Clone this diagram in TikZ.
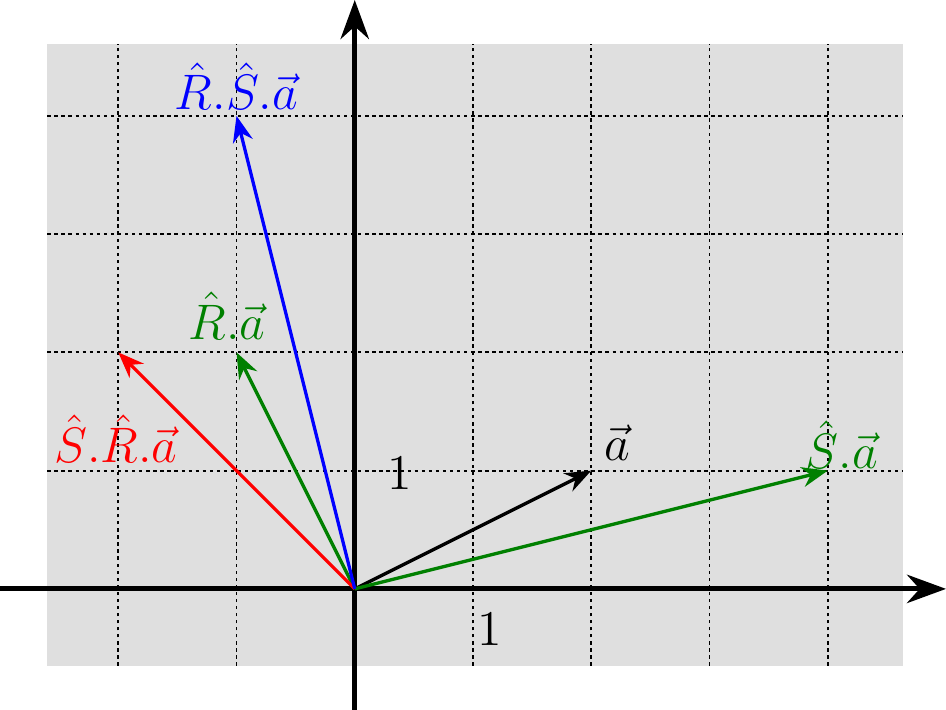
\documentclass[tikz,border=0pt]{standalone}
\usepackage{tikz}
\usetikzlibrary{arrows.meta}

\begin{document}
\begin{tikzpicture}[scale=1]

			% Define styles
			\tikzset{
				axis/.style={line width=1.2pt, -{Stealth[length=3.3mm, width=2.4mm]}},
				vec/.style={thick, -{Stealth[length=2.2mm, width=1.7mm]}},
				gridline/.style={line width=0.45pt, dash pattern=on 0.8pt off 0.9pt},
				lbl/.style={font=\fontsize{13}{15}\selectfont, inner sep=1pt}
			}
			\useasboundingbox (-3,-1.02) rectangle (5,4.98);

			% Background and grid
			\fill[gray!25] (-2.6,-0.65) rectangle (4.64,4.61);
			\draw[gridline] (-2.6,-0.65) grid (4.64,4.61);

			% Axes
			\coordinate (xmin) at (-3,0);
			\coordinate (xmax) at (5,0);
			\coordinate (ymin) at (0,-1.02);
			\coordinate (ymax) at (0,4.98);
			\draw[axis] (xmin) -- (xmax);
			\draw[axis] (ymin) -- (ymax);

			% Vectors
			\coordinate (O)  at (0,0);
			\coordinate (a)  at (2,1);
			\coordinate (Sa) at (4,1);
			\coordinate (Ra) at (-1,2);
			\coordinate (SRa) at (-2,2);
			\coordinate (RSa) at (-1,4);

			\draw[vec, black] (O) -- (a);
			\draw[vec, green!50!black] (O) -- (Sa);
			\draw[vec, green!50!black] (O) -- (Ra);
			\draw[vec, red] (O) -- (SRa);
			\draw[vec, blue] (O) -- (RSa);

			% Labels
			\node (la)   [lbl] at (2.22,1.24) {$\vec{a}$};
			\node (lSa)  [lbl, text=green!50!black] at (4.12,1.22) {$\hat{S}.\vec{a}$};
			\node (lRa)  [lbl, text=green!50!black] at (-1.08,2.31) {$\hat{R}.\vec{a}$};
			\node (lSRa) [lbl, text=red] at (-2.02,1.27) {$\hat{S}.\hat{R}.\vec{a}$};
			\node (lRSa) [lbl, text=blue] at (-1.0,4.25) {$\hat{R}.\hat{S}.\vec{a}$};
			\node (one1) [lbl] at (0.38,0.98) {$1$};
			\node (one2) [lbl] at (1.14,-0.34) {$1$};

\end{tikzpicture}
\end{document}
